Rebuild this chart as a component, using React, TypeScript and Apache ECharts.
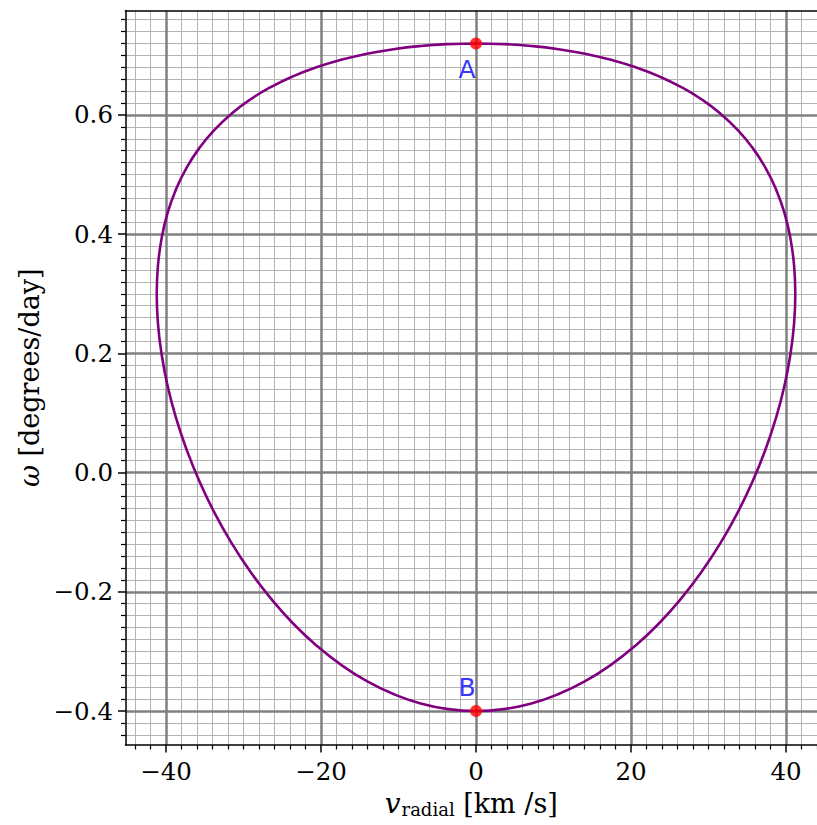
import React, { useEffect, useRef } from 'react';
import * as echarts from 'echarts';

// Closed curve, traced clockwise from the top point A (right half down to B, then left half back up to A)
const CURVE_V = [
  0, 3.59, 7.15, 10.66, 14.09, 17.41, 20.6, 23.63, 26.48, 29.13, 31.56, 33.75, 35.68, 37.34, 38.72, 39.8, 40.57, 41.04, 41.2,
  41.04, 40.57, 39.8, 38.72, 37.34, 35.68, 33.75, 31.56, 29.13, 26.48, 23.63, 20.6, 17.41, 14.09, 10.66, 7.15, 3.59, 0,
  -3.59, -7.15, -10.66, -14.09, -17.41, -20.6, -23.63, -26.48, -29.13, -31.56, -33.75, -35.68, -37.34, -38.72, -39.8, -40.57, -41.04, -41.2,
  -41.04, -40.57, -39.8, -38.72, -37.34, -35.68, -33.75, -31.56, -29.13, -26.48, -23.63, -20.6, -17.41, -14.09, -10.66, -7.15, -3.59, 0,
];
const CURVE_OMEGA = [
  0.72, 0.7189, 0.7157, 0.7103, 0.7026, 0.6925, 0.68, 0.6648, 0.6468, 0.626, 0.6021, 0.5751, 0.545, 0.5117, 0.4751, 0.4356, 0.393, 0.3477, 0.3,
  0.2501, 0.1985, 0.1457, 0.0921, 0.0383, -0.015, -0.0673, -0.1178, -0.166, -0.2111, -0.2527, -0.29, -0.3225, -0.3499, -0.3715, -0.3873, -0.3968, -0.4,
  -0.3968, -0.3873, -0.3715, -0.3499, -0.3225, -0.29, -0.2527, -0.2111, -0.166, -0.1178, -0.0673, -0.015, 0.0383, 0.0921, 0.1457, 0.1985, 0.2501, 0.3,
  0.3477, 0.393, 0.4356, 0.4751, 0.5117, 0.545, 0.5751, 0.6021, 0.626, 0.6468, 0.6648, 0.68, 0.6925, 0.7026, 0.7103, 0.7157, 0.7189, 0.72,
];

const POINT_V = [0, 0];
const POINT_OMEGA = [0.72, -0.4];
const POINT_LABELS = ['A', 'B'];

const X_MAJOR = [-40, -20, 0, 20, 40];
const X_MINOR = [
  -44, -42, -38, -36, -34, -32, -30, -28, -26, -24, -22, -18, -16, -14, -12, -10, -8, -6, -4, -2,
  2, 4, 6, 8, 10, 12, 14, 16, 18, 22, 24, 26, 28, 30, 32, 34, 36, 38, 42, 44,
];
const Y_MAJOR = [-0.4, -0.2, 0, 0.2, 0.4, 0.6];
const Y_MINOR = [
  -0.44, -0.42, -0.38, -0.36, -0.34, -0.32, -0.3, -0.28, -0.26, -0.24, -0.22,
  -0.18, -0.16, -0.14, -0.12, -0.1, -0.08, -0.06, -0.04, -0.02,
  0.02, 0.04, 0.06, 0.08, 0.1, 0.12, 0.14, 0.16, 0.18,
  0.22, 0.24, 0.26, 0.28, 0.3, 0.32, 0.34, 0.36, 0.38,
  0.42, 0.44, 0.46, 0.48, 0.5, 0.52, 0.54, 0.56, 0.58,
  0.62, 0.64, 0.66, 0.68, 0.7, 0.72, 0.74, 0.76,
];

const X_MIN = -45.23;
const X_MAX = 44.0;
const Y_MIN = -0.457;
const Y_MAX = 0.7753;

const SERIF = 'DejaVu Serif';
const fmtMinus = (s: string) => s.replace('-', '\u2212');

export default function App() {
  const ref = useRef<HTMLDivElement>(null);

  useEffect(() => {
    if (!ref.current) return;
    const chart = echarts.init(ref.current, undefined, { renderer: 'svg' });

    const spine = { color: '#000', width: 1.5 };
    const tickFont = { fontFamily: SERIF, fontSize: 24.5, color: '#000' };

    const option: any = {
      animation: false,
      backgroundColor: '#fff',
      textStyle: { fontFamily: SERIF },
      grid: {
        left: 125.5,
        right: 0,
        top: 10.5,
        bottom: 80,
        containLabel: false,
        outerBoundsMode: 'none',
      },
      xAxis: [
        {
          type: 'value',
          min: X_MIN,
          max: X_MAX,
          position: 'bottom',
          z: 2,
          axisLine: { show: true, onZero: false, lineStyle: spine },
          axisTick: { show: true, customValues: X_MAJOR, length: 7.5, lineStyle: spine },
          axisLabel: {
            show: true,
            customValues: X_MAJOR,
            margin: 14,
            ...tickFont,
            formatter: (v: number) => fmtMinus(String(v)),
          },
          splitLine: { show: true, lineStyle: { color: '#808080', width: 2.5 } },
          name: '{v|v}{sub|radial}{n| [km /s]}',
          nameLocation: 'middle',
          nameGap: 41,
          nameTextStyle: {
            fontFamily: SERIF,
            fontSize: 27,
            color: '#000',
            rich: {
              v: { fontFamily: SERIF, fontSize: 28, fontStyle: 'italic', lineHeight: 34, color: '#000' },
              sub: { fontFamily: SERIF, fontSize: 18, lineHeight: 22, padding: [12, 0, 0, 1], color: '#000' },
              n: { fontFamily: SERIF, fontSize: 27, lineHeight: 34, color: '#000' },
            },
          },
        },
        {
          type: 'value',
          min: X_MIN,
          max: X_MAX,
          position: 'bottom',
          z: 1,
          axisLine: { show: false, onZero: false },
          axisTick: { show: true, customValues: X_MINOR, length: 4.5, lineStyle: { color: '#000', width: 1.2 } },
          axisLabel: { show: false },
          splitLine: { show: true, lineStyle: { color: '#b4b4b4', width: 1 } },
        },
        {
          type: 'value',
          min: X_MIN,
          max: X_MAX,
          position: 'top',
          z: 2,
          axisLine: { show: true, onZero: false, lineStyle: spine },
          axisTick: { show: false },
          axisLabel: { show: false },
          splitLine: { show: false },
        },
      ],
      yAxis: [
        {
          type: 'value',
          min: Y_MIN,
          max: Y_MAX,
          position: 'left',
          z: 2,
          axisLine: { show: true, onZero: false, lineStyle: spine },
          axisTick: { show: true, customValues: Y_MAJOR, length: 7.5, lineStyle: spine },
          axisLabel: {
            show: true,
            customValues: Y_MAJOR,
            margin: 12.5,
            ...tickFont,
            formatter: (v: number) => fmtMinus(v.toFixed(1)),
          },
          splitLine: { show: true, lineStyle: { color: '#808080', width: 2.5 } },
          name: '{w|ω}{n| [degrees/day]}',
          nameLocation: 'middle',
          nameGap: 77,
          nameTextStyle: {
            fontFamily: SERIF,
            fontSize: 27,
            color: '#000',
            rich: {
              w: { fontFamily: SERIF, fontSize: 27, fontStyle: 'italic', color: '#000' },
              n: { fontFamily: SERIF, fontSize: 27, color: '#000' },
            },
          },
        },
        {
          type: 'value',
          min: Y_MIN,
          max: Y_MAX,
          position: 'left',
          z: 1,
          axisLine: { show: false, onZero: false },
          axisTick: { show: true, customValues: Y_MINOR, length: 4.5, lineStyle: { color: '#000', width: 1.2 } },
          axisLabel: { show: false },
          splitLine: { show: true, lineStyle: { color: '#b4b4b4', width: 1 } },
        },
      ],
      series: [
        {
          type: 'line',
          xAxisIndex: 0,
          yAxisIndex: 0,
          data: CURVE_V.map((v, i) => [v, CURVE_OMEGA[i]]),
          symbol: 'none',
          showSymbol: false,
          smooth: 0.5,
          lineStyle: { color: '#800080', width: 2.6 },
          z: 3,
          silent: true,
        },
        {
          type: 'scatter',
          xAxisIndex: 0,
          yAxisIndex: 0,
          symbolSize: 12,
          itemStyle: { color: '#ff0000' },
          z: 4,
          data: POINT_V.map((v, i) => ({
            value: [v, POINT_OMEGA[i]],
            label: {
              show: true,
              position: 'inside',
              offset: i === 0 ? [-9, 26.5] : [-9, -24],
              formatter: POINT_LABELS[i],
              color: '#0000ff',
              fontFamily: 'DejaVu Sans',
              fontSize: 25,
            },
          })),
        },
      ],
    };

    chart.setOption(option);
    return () => chart.dispose();
  }, []);

  return (
    <div
      ref={ref}
      style={{ position: 'fixed', left: 0, top: 0, width: 817, height: 825, background: '#fff' }}
    />
  );
}
